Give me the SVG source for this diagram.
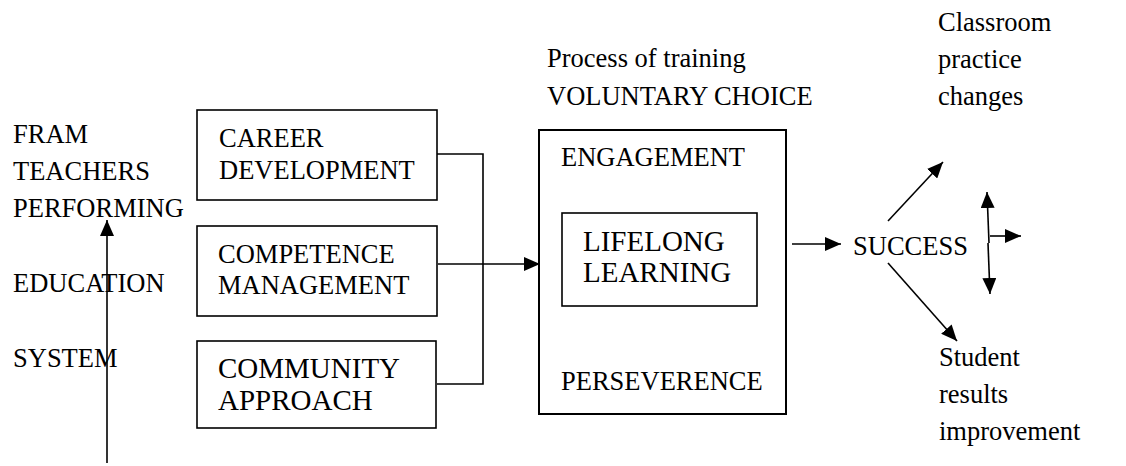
<svg xmlns="http://www.w3.org/2000/svg" width="1126" height="466" viewBox="0 0 1126 466">
<style>
text{font-family:"Liberation Serif","Times New Roman",serif;font-size:26.5px;fill:#000}
.big{font-size:29px}
.box{fill:#fff;stroke:#000;stroke-width:1.6}
.outer{fill:#fff;stroke:#000;stroke-width:2}
.ln{fill:none;stroke:#000;stroke-width:1.6}
</style>
<defs>
<marker id="ah" markerUnits="userSpaceOnUse" markerWidth="16" markerHeight="14" refX="16" refY="7" orient="auto">
<path d="M0,0 L16,7 L0,14 z" fill="#000"/>
</marker>
</defs>
<g id="left-labels">
<text x="13" y="143">FRAM</text>
<text x="13" y="180">TEACHERS</text>
<text x="13" y="217">PERFORMING</text>
<text x="13" y="292">EDUCATION</text>
<text x="13" y="367">SYSTEM</text>
</g>
<g id="career"><rect class="box" x="197" y="110" width="240" height="90"/>
<text x="219" y="147">CAREER</text><text x="219" y="179">DEVELOPMENT</text></g>
<g id="competence"><rect class="box" x="197" y="226" width="240" height="90"/>
<text x="218" y="263">COMPETENCE</text><text x="218" y="294">MANAGEMENT</text></g>
<g id="community"><rect class="box" x="197" y="341" width="239" height="87"/>
<text class="big" x="218" y="378">COMMUNITY</text><text class="big" x="218" y="410">APPROACH</text></g>
<g id="process-label"><text x="547" y="67">Process of training</text><text x="547" y="105">VOLUNTARY CHOICE</text></g>
<g id="process"><rect class="outer" x="539" y="130" width="247" height="284"/>
<text x="561" y="166">ENGAGEMENT</text>
<text x="561" y="390">PERSEVERENCE</text></g>
<g id="lifelong"><rect class="box" x="562" y="213" width="195" height="93"/>
<text class="big" x="583" y="251">LIFELONG</text><text class="big" x="583" y="282">LEARNING</text></g>
<g id="success"><text x="853" y="255">SUCCESS</text></g>
<g id="classroom"><text x="938" y="31">Classroom</text><text x="938" y="68">practice</text><text x="938" y="105">changes</text></g>
<g id="student"><text x="939" y="366">Student</text><text x="939" y="403">results</text><text x="939" y="440">improvement</text></g>
<g id="connectors">
<line class="ln" x1="107" y1="463" x2="107" y2="220" marker-end="url(#ah)"/>
<polyline class="ln" points="437,154 483,154 483,384 437,384"/>
<line class="ln" x1="438" y1="264" x2="540" y2="264" marker-end="url(#ah)"/>
<line class="ln" x1="792" y1="244" x2="841" y2="244" marker-end="url(#ah)"/>
<line class="ln" x1="888" y1="221" x2="943" y2="162" marker-end="url(#ah)"/>
<line class="ln" x1="888" y1="263" x2="957" y2="341" marker-end="url(#ah)"/>
<line class="ln" x1="989" y1="243" x2="987" y2="192" marker-end="url(#ah)"/>
<line class="ln" x1="988" y1="243" x2="990" y2="294" marker-end="url(#ah)"/>
<line class="ln" x1="990" y1="236" x2="1021" y2="236" marker-end="url(#ah)"/>
</g>
</svg>
